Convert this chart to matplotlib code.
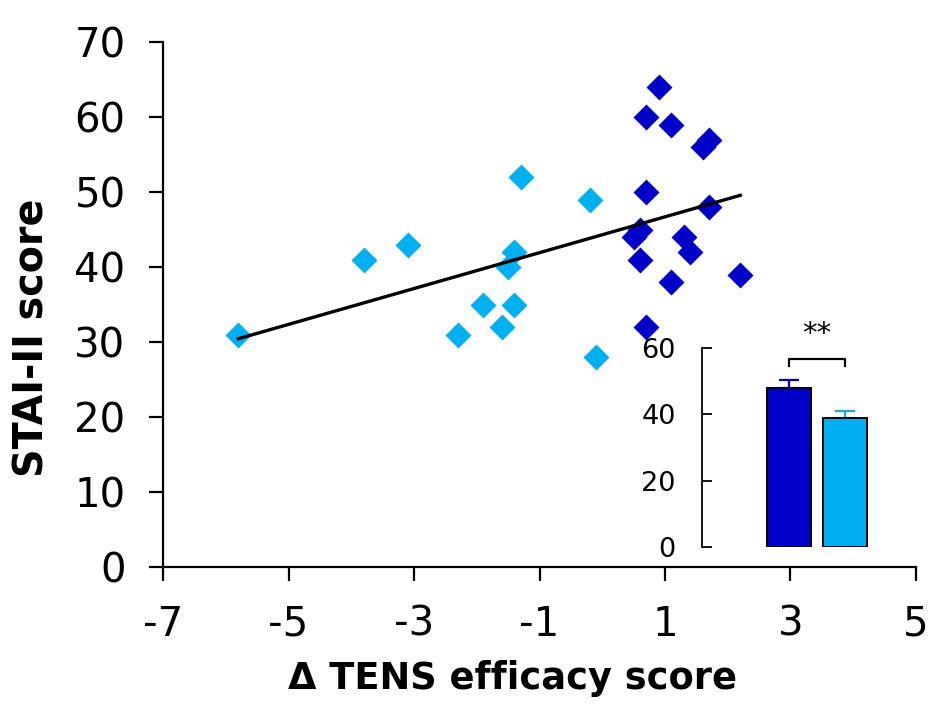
import numpy as np
import matplotlib.pyplot as plt

plt.rcParams['axes.unicode_minus'] = False

# light blue group (negative / low TENS efficacy)
light_x = [-5.8, -3.8, -3.1, -1.3, -0.2, -1.4, -1.5, -1.9, -1.4, -1.6, -2.3, -0.1]
light_y = [31, 41, 43, 52, 49, 42, 40, 35, 35, 32, 31, 28]

# dark blue group
dark_x = [0.9, 0.7, 1.1, 1.7, 1.6, 0.7, 1.7, 0.6, 0.5, 1.3, 1.4, 0.6, 1.1, 2.2, 0.7]
dark_y = [64, 60, 59, 57, 56, 50, 48, 45, 44, 44, 42, 41, 38, 39, 32]

# inset bars
bar_means = [48, 39]
bar_errs = [2.3, 2.0]

dark_col = '#0000C8'
light_col = '#00B0F0'

fig = plt.figure(figsize=(9.49, 7.04), dpi=100)
ax = fig.add_axes([0.1718, 0.1946, 0.7934, 0.7457])

ax.scatter(light_x, light_y, marker='D', s=175, color=light_col, linewidths=0, zorder=3)
ax.scatter(dark_x, dark_y, marker='D', s=175, color=dark_col, linewidths=0, zorder=3)

# linear fit over all points
all_x = np.array(light_x + dark_x)
all_y = np.array(light_y + dark_y)
slope, icpt = np.polyfit(all_x, all_y, 1)
fx = np.array([all_x.min(), all_x.max()])
ax.plot(fx, slope * fx + icpt, color='black', lw=2.4, zorder=4)

ax.set_xlim(-7, 5)
ax.set_ylim(0, 70)
ax.set_xticks([-7, -5, -3, -1, 1, 3, 5])
ax.set_yticks(range(0, 71, 10))
ax.spines['top'].set_visible(False)
ax.spines['right'].set_visible(False)
for s in ['left', 'bottom']:
    ax.spines[s].set_linewidth(1.6)
ax.tick_params(labelsize=29, width=1.6, length=10, pad=17)
ax.set_xlabel('Δ TENS efficacy score', fontsize=26.5, fontweight='bold')
ax.set_ylabel('STAI-II score', fontsize=28.5, fontweight='bold')
ax.xaxis.set_label_coords(0.4635, -0.178)
ax.yaxis.set_label_coords(-0.147, 0.436)

# inset bar chart
ins = fig.add_axes([0.7397, 0.2230, 0.1876, 0.2827])
ins.bar([0, 1], bar_means, width=0.786, color=[dark_col, light_col],
        edgecolor='black', linewidth=1.4, zorder=2)
ins.errorbar([0], [bar_means[0]], yerr=[[0], [bar_errs[0]]], fmt='none',
             ecolor=dark_col, capsize=7, elinewidth=1.6, capthick=1.6, zorder=1)
ins.errorbar([1], [bar_means[1]], yerr=[[0], [bar_errs[1]]], fmt='none',
             ecolor='#1EA8C8', capsize=7, elinewidth=1.6, capthick=1.6, zorder=1)
ins.set_xlim(-1.55, 1.625)
ins.set_ylim(0, 60)
ins.set_yticks([0, 20, 40, 60])
ins.set_xticks([])
for s in ['top', 'right', 'bottom']:
    ins.spines[s].set_visible(False)
ins.spines['left'].set_linewidth(1.3)
ins.tick_params(axis='y', direction='in', labelsize=19.5, length=7, width=1.3, pad=19)
ins.yaxis.get_major_ticks()[0].tick1line.set_color('#cccccc')
ins.patch.set_alpha(0)

# significance bracket
ins.plot([0, 0, 1, 1], [54.7, 56.7, 56.7, 54.7], color='black', lw=1.6, clip_on=False)
ins.text(0.5, 60, '**', ha='center', va='bottom', fontsize=21)

fig.savefig('out.png', dpi=100)
